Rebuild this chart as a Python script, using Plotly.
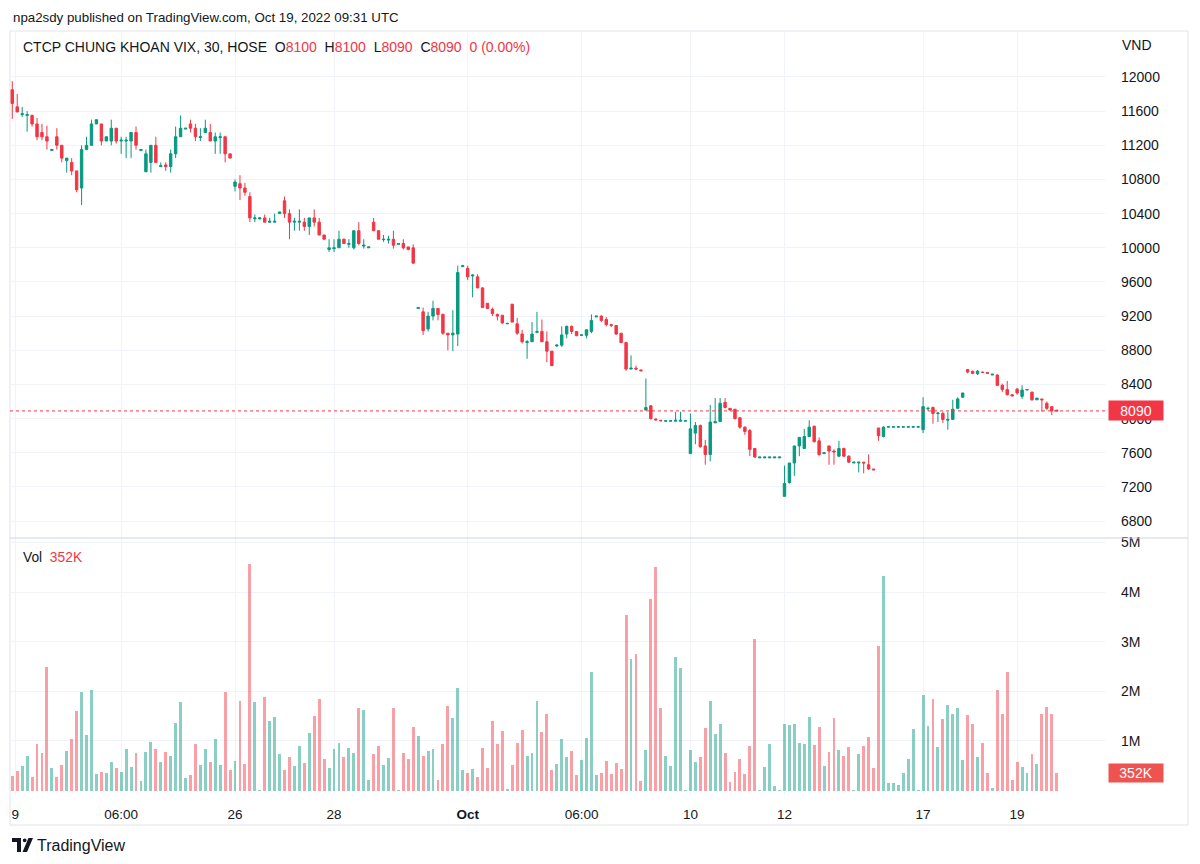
import plotly.graph_objects as go

# ---------------- data (30-min candles, VIX / HOSE) ----------------
opens = [
    11850, 11650, 11560, 11550, 11550, 11450, 11350, 11300, 11140, 11300,
    11200, 11020, 11000, 10900, 10700, 11150, 11200, 11450, 11450, 11250,
    11250, 11400, 11250, 11250, 11250, 11350, 11140, 10890, 11000, 11200,
    10950, 10970, 10950, 11100, 11300, 11390, 11450, 11400, 11290, 11350,
    11350, 11250, 11290, 11300, 11100, 10720, 10750, 10700, 10600, 10340,
    10340, 10350, 10300, 10300, 10400, 10550, 10400, 10300, 10300, 10300,
    10250, 10350, 10300, 10150, 9980, 9990, 10000, 10100, 10040, 10000,
    10200, 10020, 10000, 10300, 10200, 10095, 10090, 10100, 10040, 10050,
    10010, 10000, 9290, 9250, 9050, 9200, 9290, 9220, 9000, 8980,
    8990, 9780, 9760, 9670, 9660, 9530, 9350, 9280, 9220, 9210,
    9110, 9340, 9110, 8990, 8890, 8900, 9010, 9020, 8900, 8790,
    8850, 8860, 8990, 9080, 9020, 8975, 8975, 9020, 9190, 9200,
    9160, 9100, 9090, 9000, 8890, 8580, 8590, 8570, 8100, 8150,
    7995, 7980, 7970, 7970, 7970, 7970, 7970, 7590, 7830, 7920,
    7680, 7580, 7950, 7965, 8190, 8120, 8110, 8010, 7900, 7860,
    7650, 7540, 7540, 7540, 7540, 7540, 7090, 7250, 7480, 7680,
    7650, 7790, 7910, 7740, 7590, 7680, 7620, 7560, 7650, 7560,
    7480, 7480, 7490, 7460, 7410, 7890, 7790, 7900, 7900, 7900,
    7900, 7900, 7900, 7900, 7870, 8115, 8130, 8060, 8060, 7980,
    7990, 8120, 8250, 8575, 8555, 8525, 8545, 8540, 8510, 8510,
    8390, 8340, 8280, 8345, 8260, 8335, 8310, 8220, 8230, 8180,
    8140, 8100,
]
highs = [
    11950, 11800, 11650, 11600, 11560, 11520, 11450, 11430, 11150, 11400,
    11200, 11050, 11050, 10900, 11200, 11300, 11500, 11500, 11450, 11300,
    11500, 11400, 11300, 11300, 11350, 11420, 11150, 11150, 11200, 11300,
    11000, 11000, 11150, 11420, 11550, 11400, 11500, 11450, 11400, 11500,
    11450, 11350, 11350, 11300, 11100, 10800, 10850, 10760, 10650, 10390,
    10360, 10390, 10350, 10400, 10420, 10600, 10450, 10350, 10450, 10350,
    10350, 10450, 10350, 10150, 10100, 10100, 10200, 10110, 10100, 10200,
    10300, 10100, 10010, 10350, 10200, 10150, 10140, 10200, 10050, 10100,
    10010, 10040, 9300, 9300, 9250, 9380, 9290, 9230, 9000, 9270,
    9790, 9800, 9790, 9690, 9690, 9540, 9350, 9300, 9230, 9210,
    9115, 9340, 9180, 9040, 8920, 9130, 9250, 9160, 9020, 8790,
    8870, 9080, 9090, 9090, 9020, 8990, 9040, 9220, 9200, 9210,
    9190, 9110, 9090, 9000, 8900, 8740, 8620, 8570, 8470, 8160,
    8000, 7985, 7980, 7980, 8080, 8080, 7980, 8060, 7960, 7930,
    7750, 8160, 8240, 8240, 8240, 8120, 8110, 8020, 7910, 7880,
    7650, 7550, 7550, 7550, 7550, 7550, 7450, 7480, 7680, 7780,
    7880, 7980, 7920, 7780, 7600, 7680, 7640, 7740, 7660, 7570,
    7490, 7490, 7490, 7580, 7410, 7890, 7910, 7905, 7905, 7905,
    7905, 7905, 7905, 7905, 8250, 8140, 8140, 8080, 8080, 8080,
    8220, 8250, 8300, 8580, 8560, 8570, 8550, 8540, 8520, 8520,
    8410, 8440, 8280, 8360, 8390, 8345, 8315, 8240, 8230, 8200,
    8140, 8100,
]
lows = [
    11510, 11590, 11530, 11360, 11420, 11260, 11260, 11150, 11140, 11150,
    11000, 10880, 10850, 10650, 10500, 11150, 11200, 11450, 11200, 11250,
    11200, 11220, 11100, 11050, 11050, 11150, 11140, 10890, 10880, 11000,
    10950, 10900, 10880, 11050, 11300, 11390, 11350, 11250, 11250, 11350,
    11250, 11100, 11100, 11000, 11050, 10660, 10560, 10610, 10300, 10300,
    10330, 10300, 10290, 10300, 10400, 10350, 10100, 10200, 10200, 10200,
    10150, 10250, 10150, 10100, 9950, 9950, 10000, 10050, 10000, 9980,
    10030, 9990, 10000, 10200, 10100, 10070, 10050, 9990, 10040, 9980,
    9970, 9820, 9290, 8980, 9020, 9150, 9150, 8980, 8800, 8790,
    8850, 9780, 9620, 9420, 9530, 9300, 9290, 9200, 9150, 9110,
    9110, 9130, 8980, 8880, 8700, 8900, 9000, 8900, 8660, 8620,
    8840, 8840, 8940, 8990, 8970, 8970, 8940, 9000, 9190, 9130,
    9080, 9070, 8980, 8890, 8560, 8580, 8570, 8560, 8100, 7990,
    7980, 7970, 7970, 7970, 7965, 7965, 7970, 7590, 7700, 7660,
    7460, 7500, 7950, 7965, 8120, 8100, 7990, 7880, 7810, 7560,
    7540, 7540, 7540, 7540, 7540, 7540, 7090, 7240, 7330, 7560,
    7650, 7790, 7720, 7560, 7590, 7460, 7460, 7550, 7550, 7480,
    7480, 7370, 7360, 7400, 7400, 7740, 7780, 7900, 7900, 7900,
    7900, 7900, 7900, 7900, 7830, 8090, 7940, 7960, 7950, 7870,
    7990, 8120, 8250, 8530, 8520, 8510, 8540, 8530, 8510, 8380,
    8310, 8270, 8265, 8280, 8230, 8335, 8210, 8220, 8080, 8100,
    8040, 8090,
]
closes = [
    11690, 11590, 11570, 11560, 11450, 11300, 11300, 11250, 11150, 11200,
    11050, 11050, 10900, 10680, 11150, 11200, 11450, 11500, 11250, 11300,
    11400, 11250, 11260, 11260, 11350, 11200, 11150, 11100, 11200, 11000,
    10960, 10950, 11100, 11300, 11400, 11400, 11400, 11300, 11300, 11400,
    11250, 11300, 11300, 11100, 11050, 10770, 10700, 10650, 10350, 10350,
    10350, 10300, 10310, 10310, 10420, 10400, 10300, 10310, 10310, 10250,
    10350, 10300, 10150, 10100, 10000, 10000, 10100, 10050, 10050, 10200,
    10050, 10030, 10010, 10200, 10100, 10100, 10100, 10030, 10050, 10000,
    9980, 9820, 9300, 9030, 9200, 9290, 9220, 9000, 8980, 9000,
    9710, 9790, 9660, 9680, 9530, 9300, 9290, 9230, 9200, 9120,
    9115, 9130, 9000, 8900, 8900, 8990, 9020, 8900, 8790, 8620,
    8860, 8980, 9080, 9020, 8970, 8980, 9040, 9150, 9200, 9150,
    9100, 9090, 8990, 8890, 8580, 8590, 8580, 8560, 8130, 8000,
    7985, 7975, 7975, 7975, 7980, 7980, 7975, 7880, 7920, 7670,
    7580, 7960, 7965, 8180, 8130, 8100, 8000, 7900, 7850, 7640,
    7550, 7550, 7550, 7550, 7550, 7550, 7240, 7480, 7680, 7780,
    7790, 7900, 7730, 7580, 7600, 7620, 7610, 7650, 7560, 7490,
    7490, 7490, 7480, 7410, 7400, 7800, 7900, 7905, 7905, 7905,
    7905, 7905, 7905, 7905, 8140, 8120, 8060, 8065, 7990, 7990,
    8110, 8230, 8300, 8545, 8530, 8555, 8540, 8530, 8520, 8390,
    8340, 8280, 8265, 8300, 8335, 8340, 8220, 8240, 8220, 8120,
    8090, 8090,
]
volumes_m = [
    0.30, 0.40, 0.49, 0.70, 0.27, 0.94, 0.76, 2.49, 0.45, 0.28,
    0.52, 0.79, 1.03, 1.60, 1.98, 1.13, 2.02, 0.34, 0.38, 0.35,
    0.58, 0.46, 0.38, 0.83, 0.47, 0.76, 0.19, 0.78, 0.98, 0.83,
    0.58, 0.77, 0.70, 1.36, 1.79, 0.26, 0.32, 0.94, 0.51, 0.84,
    0.58, 1.03, 0.52, 1.98, 0.41, 0.60, 1.81, 0.54, 4.56, 1.78,
    0.02, 1.89, 1.40, 1.49, 0.73, 0.41, 0.67, 0.49, 0.89, 0.55,
    1.16, 1.51, 1.85, 0.63, 0.46, 0.83, 0.96, 0.68, 0.85, 0.75,
    1.67, 1.63, 0.22, 0.74, 0.89, 0.51, 0.66, 1.67, 0.01, 0.76,
    0.63, 1.28, 1.11, 0.69, 0.79, 0.83, 0.22, 0.94, 1.71, 1.47,
    2.06, 0.42, 0.36, 0.44, 0.27, 0.85, 0.46, 1.40, 0.94, 1.20,
    0.03, 0.52, 0.96, 1.23, 0.69, 0.75, 1.80, 1.18, 1.55, 0.42,
    0.54, 1.03, 0.67, 0.79, 0.32, 0.62, 1.05, 2.38, 0.32, 0.36,
    0.59, 0.34, 0.56, 0.44, 3.53, 2.66, 2.76, 0.20, 0.81, 3.87,
    4.50, 1.67, 0.69, 0.49, 2.69, 2.47, 0.02, 0.81, 0.58, 0.67,
    1.26, 1.80, 1.14, 1.34, 0.76, 0.17, 0.38, 0.63, 0.34, 0.89,
    3.06, 0.01, 0.48, 0.93, 0.10, 0.01, 1.35, 1.32, 1.35, 0.96,
    0.93, 1.49, 0.91, 1.28, 0.50, 0.78, 1.47, 0.81, 0.69, 0.87,
    0.01, 0.74, 0.89, 1.08, 0.46, 2.91, 4.33, 0.15, 0.15, 0.12,
    0.36, 0.63, 1.24, 0.01, 1.92, 1.30, 1.85, 0.87, 1.45, 1.73,
    1.55, 1.67, 0.62, 1.53, 1.34, 0.67, 0.96, 0.36, 0.05, 2.02,
    1.55, 2.38, 0.22, 0.58, 0.48, 0.36, 0.73, 0.54, 1.55, 1.68,
    1.55, 0.352,
]
x_tick_pos = [0.6, 22, 45, 65, 92, 115, 137, 156, 184, 203]
x_tick_text = ["9", "06:00", "26", "28", "<b>Oct</b>", "06:00", "10", "12", "17", "19"]
price_ticks = [6800, 7200, 7600, 8000, 8400, 8800, 9200, 9600, 10000, 10400, 10800, 11200, 11600, 12000]
vol_ticks = [1, 2, 3, 4, 5]
vol_tick_text = ["1M", "2M", "3M", "4M", "5M"]
last_price = 8090
last_volume_text = "352K"

# ---------------- style ----------------
W, H = 1200, 864
ML, MR, MT, MB = 10, 95, 30, 69
PW, PH = W - ML - MR, H - MT - MB
UP, DOWN = "#089981", "#F23645"
UP_VOL, DOWN_VOL = "rgba(8,153,129,0.47)", "rgba(242,54,69,0.47)"
TXT = "#131722"
GRID = "#f0f3fa"
FRAME = "#e0e3eb"
FONT = "Liberation Sans, Arial, sans-serif"


def pxx(px):
    return (px - ML) / PW


def pxy(py):
    return (H - MB - py) / PH


split = pxy(538)
idx = list(range(len(opens)))
vol_colors = [UP_VOL if c >= o else DOWN_VOL for o, c in zip(opens, closes)]

fig = go.Figure()
fig.add_trace(go.Candlestick(
    x=idx, open=opens, high=highs, low=lows, close=closes,
    increasing=dict(line=dict(color=UP, width=1), fillcolor=UP),
    decreasing=dict(line=dict(color=DOWN, width=1), fillcolor=DOWN),
    whiskerwidth=0, showlegend=False, hoverinfo="skip",
    xaxis="x", yaxis="y",
))
fig.add_trace(go.Bar(
    x=idx, y=volumes_m, marker=dict(color=vol_colors, line=dict(width=0)),
    width=0.58, showlegend=False, hoverinfo="skip", xaxis="x2", yaxis="y2",
))

x_range = [-0.46, -0.46 + PW / 4.95]
common_x = dict(range=x_range, tickvals=x_tick_pos, showgrid=True, gridcolor=GRID,
                gridwidth=1, zeroline=False, showline=False, ticks="", fixedrange=True)
fig.update_layout(
    width=W, height=H,
    margin=dict(l=ML, r=MR, t=MT, b=MB),
    paper_bgcolor="white", plot_bgcolor="white",
    font=dict(family=FONT, color=TXT, size=13),
    showlegend=False, bargap=0, hovermode=False,
    xaxis=dict(domain=[0, 1], anchor="y", showticklabels=False,
               rangeslider=dict(visible=False), **common_x),
    xaxis2=dict(domain=[0, 1], anchor="y2", matches="x", showticklabels=True,
                ticktext=x_tick_text, tickfont=dict(size=13.5, color=TXT),
                ticklabelstandoff=9, **common_x),
    yaxis=dict(domain=[split, 1], anchor="x", side="right", range=[6602, 12550],
               tickvals=price_ticks, ticktext=[str(v) for v in price_ticks],
               showgrid=True, gridcolor=GRID, zeroline=False, showline=False,
               ticks="", ticklabelstandoff=15, tickfont=dict(size=14, color=TXT),
               fixedrange=True),
    yaxis2=dict(domain=[0, split], anchor="x2", side="right", range=[-0.089, 5.09],
                tickvals=vol_ticks, ticktext=vol_tick_text,
                showgrid=True, gridcolor=GRID, zeroline=False, showline=False,
                ticks="", ticklabelstandoff=15, tickfont=dict(size=14, color=TXT),
                fixedrange=True),
)

shapes = [
    # outer frame
    dict(type="rect", xref="paper", yref="paper", x0=pxx(10), x1=pxx(1188),
         y0=pxy(825), y1=pxy(31), line=dict(color=FRAME, width=1), layer="below"),
    # pane separator
    dict(type="line", xref="paper", yref="paper", x0=pxx(10), x1=pxx(1188),
         y0=split, y1=split, line=dict(color="#d1d4dc", width=1)),
    # last-price dotted line
    dict(type="line", xref="paper", yref="y", x0=0, x1=1, y0=last_price, y1=last_price,
         line=dict(color=DOWN, width=1, dash="dot")),
    # TradingView logo
    dict(type="path", xref="paper", yref="paper", fillcolor=TXT, line=dict(width=0),
         path=f"M{pxx(12)},{pxy(838)} L{pxx(21)},{pxy(838)} L{pxx(21)},{pxy(852)} "
              f"L{pxx(17)},{pxy(852)} L{pxx(17)},{pxy(842)} L{pxx(12)},{pxy(842)} Z"),
    dict(type="circle", xref="paper", yref="paper", fillcolor=TXT, line=dict(width=0),
         x0=pxx(22.8), x1=pxx(26.6), y0=pxy(842.2), y1=pxy(838.4)),
    dict(type="path", xref="paper", yref="paper", fillcolor=TXT, line=dict(width=0),
         path=f"M{pxx(28.5)},{pxy(838)} L{pxx(33)},{pxy(838)} L{pxx(27)},{pxy(852)} "
              f"L{pxx(22.5)},{pxy(852)} Z"),
]
fig.update_layout(shapes=shapes)

red = DOWN
nb = "\u00a0"
header = (f"CTCP CHUNG KHOAN VIX, 30, HOSE{nb}{nb}"
          f"O<span style='color:{red}'>8100</span>{nb}{nb}"
          f"H<span style='color:{red}'>8100</span>{nb}{nb}"
          f"L<span style='color:{red}'>8090</span>{nb}{nb}"
          f"C<span style='color:{red}'>8090</span>{nb}{nb}"
          f"<span style='color:{red}'>0 (0.00%)</span>")
annotations = [
    dict(text="npa2sdy published on TradingView.com, Oct 19, 2022 09:31 UTC",
         xref="paper", yref="paper", x=pxx(11), y=pxy(17), xanchor="left", yanchor="middle",
         showarrow=False, font=dict(size=13.3, color=TXT)),
    dict(text=header, xref="paper", yref="paper", x=pxx(21), y=pxy(47),
         xanchor="left", yanchor="middle", showarrow=False, font=dict(size=14, color=TXT)),
    dict(text=f"Vol{nb}{nb}<span style='color:{red}'>{last_volume_text}</span>",
         xref="paper", yref="paper", x=pxx(21), y=pxy(557), xanchor="left", yanchor="middle",
         showarrow=False, font=dict(size=13.8, color=TXT)),
    dict(text="VND", xref="paper", yref="paper", x=pxx(1120), y=pxy(45),
         xanchor="left", yanchor="middle", showarrow=False, font=dict(size=14, color=TXT)),
    dict(text=str(last_price), xref="paper", yref="y", x=1, y=last_price,
         xanchor="left", yanchor="middle", xshift=3, showarrow=False,
         bgcolor=DOWN, width=50, height=15, borderpad=2, align="center",
         font=dict(size=14, color="white")),
    dict(text=last_volume_text, xref="paper", yref="y2", x=1, y=volumes_m[-1],
         xanchor="left", yanchor="middle", xshift=3, showarrow=False,
         bgcolor="#ef5350", width=50, height=14, borderpad=2, align="center",
         font=dict(size=14, color="white")),
    dict(text="TradingView", xref="paper", yref="paper", x=pxx(35), y=pxy(845),
         xanchor="left", yanchor="middle", showarrow=False,
         font=dict(size=16, color=TXT)),
]
fig.update_layout(annotations=annotations)

fig.write_html("out.html", config={"displayModeBar": False, "staticPlot": True},
               post_script="document.body.style.margin='0px';")
